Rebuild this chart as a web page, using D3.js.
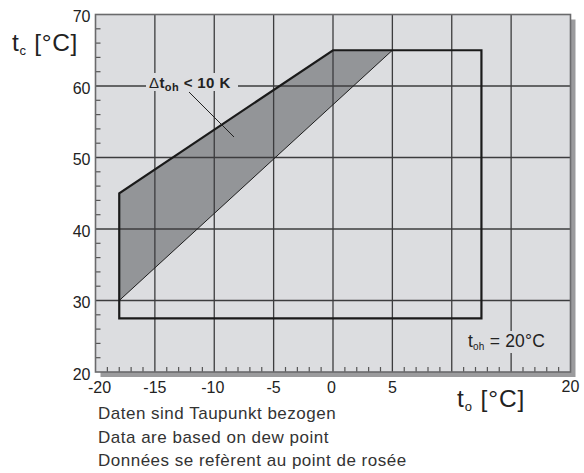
<!DOCTYPE html>
<html>
<head>
<meta charset="utf-8">
<script src="https://cdn.jsdelivr.net/npm/d3@7"></script>
<style>
  body { margin: 0; background: #fff; }
  svg { display: block; font-family: "Liberation Sans", Arial, sans-serif; }
</style>
</head>
<body>
<div id="chart"></div>
<script>
// Operating envelope: t_o (evaporating) vs t_c (condensing)

const width = 584;
const height = 473;
const plot = {left: 95.5, top: 14.5, right: 570.5, bottom: 372};

// data
const xLabelTicks = [-20, -15, -10, -5, 0, 5, 20];
const xGrid = [-15, -10, -5, 0, 5, 10, 15];
const yLabelTicks = [20, 30, 40, 50, 60, 70];
const yGrid = [30, 40, 50, 60];
const envelope = [[-18, 27.5], [-18, 45], [0, 65], [12.5, 65], [12.5, 27.5]];
const superheatZone = [[-18, 45], [0, 65], [5, 65], [-18, 30]];
const diagonal = [[-18, 30], [5, 65]];
const notes = [
    "Daten sind Taupunkt bezogen",
    "Data are based on dew point",
    "Données se refèrent au point de rosée"
];

const x = d3.scaleLinear().domain([-20, 20]).range([plot.left, plot.right]);
const y = d3.scaleLinear().domain([20, 70]).range([plot.bottom, plot.top]);
const line = d3.line().x(d => x(d[0])).y(d => y(d[1]));

const svg = d3.select("#chart").append("svg")
    .attr("width", width)
    .attr("height", height);

const pw = plot.right - plot.left;
const ph = plot.bottom - plot.top;

// drop shadow + background
svg.append("rect")
    .attr("x", plot.left + 5).attr("y", plot.top + 5)
    .attr("width", pw).attr("height", ph)
    .attr("fill", "#9b9b9d");
svg.append("rect")
    .attr("x", plot.left).attr("y", plot.top)
    .attr("width", pw).attr("height", ph)
    .attr("fill", "#dcdde0");

// shaded zone (under grid)
svg.append("path")
    .datum(superheatZone)
    .attr("d", d => line(d) + "Z")
    .attr("fill", "#939598");

// grid
svg.append("g").selectAll("line")
    .data(xGrid)
    .join("line")
    .attr("x1", d => x(d)).attr("x2", d => x(d))
    .attr("y1", plot.top).attr("y2", plot.bottom)
    .attr("stroke", "#3c3c3e")
    .attr("stroke-width", 1.3);
svg.append("g").selectAll("line")
    .data(yGrid)
    .join("line")
    .attr("x1", plot.left).attr("x2", plot.right)
    .attr("y1", d => y(d)).attr("y2", d => y(d))
    .attr("stroke", "#3c3c3e")
    .attr("stroke-width", 1.3);

// minor ticks inside the frame
svg.append("g").selectAll("line")
    .data(d3.range(-19, 20, 1).filter(v => v % 5 !== 0))
    .join("line")
    .attr("x1", d => x(d)).attr("x2", d => x(d))
    .attr("y1", plot.bottom - 5).attr("y2", plot.bottom)
    .attr("stroke", "#555")
    .attr("stroke-width", 1.2);
svg.append("g").selectAll("line")
    .data(d3.range(22, 70, 2).filter(v => v % 10 !== 0))
    .join("line")
    .attr("x1", plot.left).attr("x2", plot.left + 5)
    .attr("y1", d => y(d)).attr("y2", d => y(d))
    .attr("stroke", "#555")
    .attr("stroke-width", 1.2);

// frame
svg.append("rect")
    .attr("x", plot.left).attr("y", plot.top)
    .attr("width", pw).attr("height", ph)
    .attr("fill", "none")
    .attr("stroke", "#6a6a6c")
    .attr("stroke-width", 1.6);

// thin diagonal and envelope outline
svg.append("path")
    .datum(diagonal)
    .attr("d", line)
    .attr("fill", "none")
    .attr("stroke", "#1e1e1e")
    .attr("stroke-width", 1);

svg.append("path")
    .datum(envelope)
    .attr("d", d => line(d) + "Z")
    .attr("fill", "none")
    .attr("stroke", "#1a1a1a")
    .attr("stroke-width", 2.2)
    .attr("stroke-linejoin", "miter");

// annotation: delta t_oh < 10 K
svg.append("line")
    .attr("x1", 189).attr("y1", 92)
    .attr("x2", 234).attr("y2", 137)
    .attr("stroke", "#222")
    .attr("stroke-width", 1);
svg.append("rect")
    .attr("x", 146).attr("y", 73)
    .attr("width", 92).attr("height", 18)
    .attr("fill", "#dcdde0");
const ann = svg.append("text")
    .attr("x", 149).attr("y", 87.5)
    .attr("font-size", 15)
    .attr("letter-spacing", 0.4)
    .attr("fill", "#222");
ann.append("tspan").text("Δ");
ann.append("tspan").attr("font-weight", "bold").text("t");
ann.append("tspan").attr("font-weight", "bold").attr("font-size", 11).attr("dy", 3).text("oh");
ann.append("tspan").attr("font-weight", "bold").attr("dy", -3).text(" < 10 K");

// t_oh = 20°C label
svg.append("rect")
    .attr("x", 465).attr("y", 331)
    .attr("width", 84).attr("height", 22)
    .attr("fill", "#dcdde0");
const toh = svg.append("text")
    .attr("x", 468).attr("y", 347)
    .attr("font-size", 17.5)
    .attr("letter-spacing", 0.2)
    .attr("fill", "#222");
toh.append("tspan").text("t");
toh.append("tspan").attr("font-size", 10).attr("dy", 3).text("oh");
toh.append("tspan").attr("dy", -3).text(" = 20°C");

// tick labels
svg.append("g").selectAll("text")
    .data(xLabelTicks)
    .join("text")
    .attr("x", d => x(d) + (d === -20 ? 4 : d === -10 ? -1.5 : d === 0 ? -1.5 : 0))
    .attr("y", d => d === 20 ? 391.5 : 393.3)
    .attr("text-anchor", "middle")
    .attr("font-size", 16)
    .attr("fill", "#222")
    .text(d => d);

svg.append("g").selectAll("text")
    .data(yLabelTicks)
    .join("text")
    .attr("x", plot.left - 5)
    .attr("y", d => y(d))
    .attr("dy", "0.48em")
    .attr("text-anchor", "end")
    .attr("font-size", 16)
    .attr("fill", "#222")
    .text(d => d);

// axis titles
const yTitle = svg.append("text")
    .attr("x", 12).attr("y", 51)
    .attr("font-size", 24.5)
    .attr("letter-spacing", 0.7)
    .attr("fill", "#222");
yTitle.append("tspan").text("t");
yTitle.append("tspan").attr("font-size", 13).attr("dy", 4).text("c");
yTitle.append("tspan").attr("dy", -4).text(" [°C]");

const xTitle = svg.append("text")
    .attr("x", 457).attr("y", 407)
    .attr("font-size", 24.5)
    .attr("letter-spacing", 0.9)
    .attr("fill", "#222");
xTitle.append("tspan").text("t");
xTitle.append("tspan").attr("font-size", 13).attr("dy", 4).text("o");
xTitle.append("tspan").attr("dy", -4).text(" [°C]");

// notes under the chart
svg.append("g").selectAll("text")
    .data(notes)
    .join("text")
    .attr("x", 98)
    .attr("y", (d, i) => 419 + i * 23.5)
    .attr("font-size", 17)
    .attr("letter-spacing", 0.5)
    .attr("fill", "#333")
    .text(d => d);
</script>
</body>
</html>
